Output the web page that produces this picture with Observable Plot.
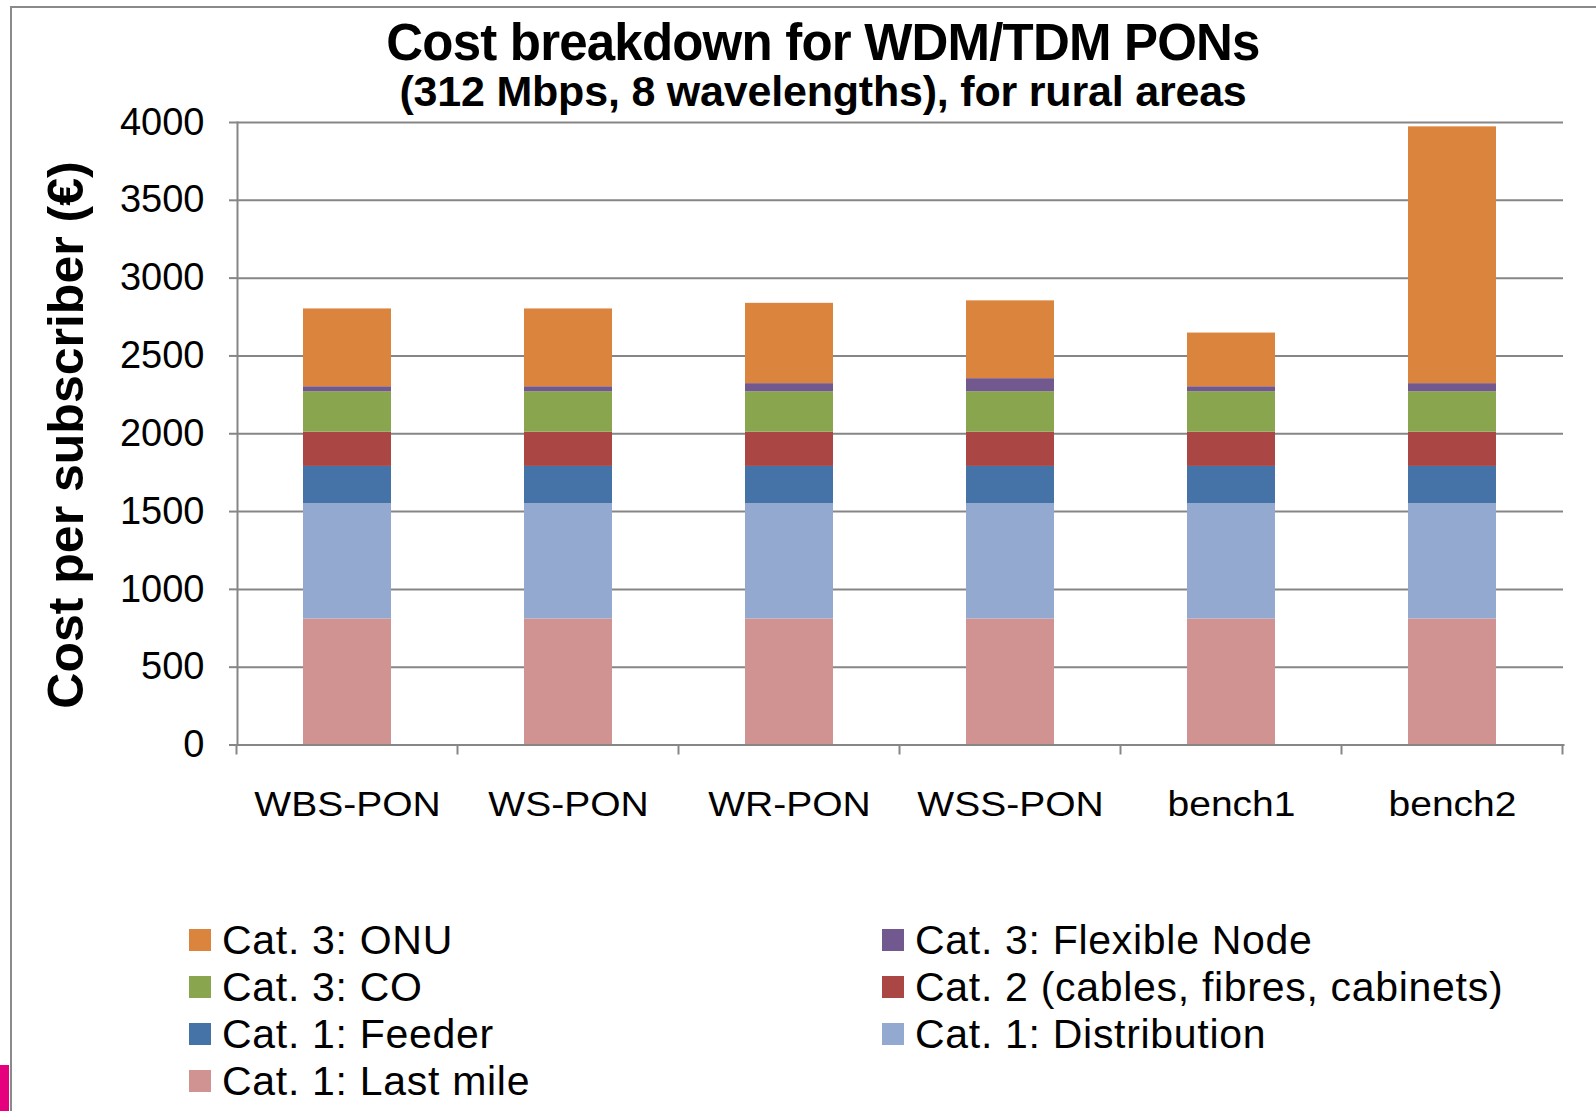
<!DOCTYPE html>
<html>
<head>
<meta charset="utf-8">
<script src="https://cdn.jsdelivr.net/npm/d3@7"></script>
<script src="https://cdn.jsdelivr.net/npm/@observablehq/plot@0.6"></script>
<style>
  html, body { margin: 0; padding: 0; background: #fff; }
  #wrap { position: relative; width: 1596px; height: 1111px; overflow: hidden; font-family: "Liberation Sans", Arial, sans-serif; }
  #chart { position: absolute; left: 0; top: 0; }
  .title { position: absolute; white-space: nowrap; transform: translateX(-50%); font-weight: bold; line-height: 1; color: #000; }
  .ylabel { position: absolute; white-space: nowrap; font-weight: bold; line-height: 1; color: #000; font-size: 50px; transform: translate(-50%, -50%) rotate(-90deg); }
  .border-top { position: absolute; left: 10px; top: 6px; width: 1590px; height: 2px; background: #8a8a8a; }
  .border-left { position: absolute; left: 10px; top: 6px; width: 2px; height: 1110px; background: #8a8a8a; }
  .pink { position: absolute; left: 0; top: 1065px; width: 9px; height: 50px; background: #e5007d; }
  .leg { position: absolute; white-space: nowrap; display: flex; align-items: center; height: 44px; }
  .leg .sw { width: 22px; height: 22px; margin-right: 11px; flex: none; }
  .leg .lb { font-size: 41px; letter-spacing: 0.7px; color: #000; line-height: 1; }
</style>
</head>
<body>
<div id="wrap">
  <div class="border-top"></div>
  <div class="border-left"></div>
  <div class="pink"></div>
  <div id="chart"></div>
</div>
<script>
// ---- data ----
const categories = ["WBS-PON", "WS-PON", "WR-PON", "WSS-PON", "bench1", "bench2"];
// series listed bottom-to-top of each stack
const seriesNames = [
  "Cat. 1: Last mile",
  "Cat. 1: Distribution",
  "Cat. 1: Feeder",
  "Cat. 2 (cables, fibres, cabinets)",
  "Cat. 3: CO",
  "Cat. 3: Flexible Node",
  "Cat. 3: ONU"
];
const seriesColors = ["#d19392", "#93a9cf", "#4572a7", "#aa4643", "#89a54e", "#71588f", "#db843d"];
const lastMile     = [810, 810, 810, 810, 810, 810];
const distribution = [740, 740, 740, 740, 740, 740];
const feeder       = [240, 240, 240, 240, 240, 240];
const cat2         = [220, 220, 220, 220, 220, 220];
const co           = [260, 260, 260, 260, 260, 260];
const flexNode     = [32, 32, 52, 84, 32, 52];
const onu          = [500, 500, 516, 500, 345, 1650];
const yTicks = [0, 500, 1000, 1500, 2000, 2500, 3000, 3500, 4000];
const titleText = "Cost breakdown for WDM/TDM PONs";
const subtitleText = "(312 Mbps, 8 wavelengths), for rural areas";
const yLabel = "Cost per subscriber (€)";

const seriesValues = [lastMile, distribution, feeder, cat2, co, flexNode, onu];
const rows = [];
seriesNames.forEach((s, si) => categories.forEach((c, ci) => rows.push({cat: c, series: s, value: seriesValues[si][ci]})));

const gridColor = "#868686";

// boundary ticks below the category axis (between bands)
function boundaryTicks(index, scales, values, dims) {
  const x = scales.x;
  const bw = x.bandwidth ? x.bandwidth() : 0;
  const centers = categories.map(c => x(c) + bw / 2);
  const step = centers[1] - centers[0];
  const bounds = centers.map(c => c - step / 2).concat([centers[centers.length - 1] + step / 2]);
  const yb = dims.height - dims.marginBottom;
  const g = d3.create("svg:g");
  g.selectAll("line").data(bounds).join("line")
    .attr("x1", d => d).attr("x2", d => d)
    .attr("y1", yb).attr("y2", yb + 10)
    .attr("stroke", gridColor).attr("stroke-width", 2);
  return g.node();
}

const H = 830;
const chart = Plot.plot({
  width: 1596,
  height: H,
  marginLeft: 237,
  marginRight: 33,
  marginTop: 122,
  marginBottom: H - 744.5,
  style: {fontFamily: "'Liberation Sans', Arial, sans-serif", background: "transparent", color: "#000"},
  x: {domain: categories, paddingInner: 0.6, paddingOuter: 0.3, label: null},
  y: {domain: [0, 4000], label: null},
  color: {domain: seriesNames, range: seriesColors},
  marks: [
    Plot.gridY(yTicks, {stroke: gridColor, strokeOpacity: 1, strokeWidth: 2}),
    Plot.barY(rows, {x: "cat", y: "value", fill: "series", order: seriesNames}),
    Plot.axisY(yTicks, {tickSize: 8, tickPadding: 25, fontSize: 38, stroke: gridColor, strokeWidth: 2, fill: "#000", label: null, tickFormat: d => String(d)}),
    Plot.axisX({tickSize: 0, tickPadding: 46, fontSize: 39, fill: "#000", label: null}),
    Plot.frame({anchor: "left", stroke: gridColor, strokeWidth: 2}),
    Plot.frame({anchor: "bottom", stroke: gridColor, strokeWidth: 2}),
    boundaryTicks
  ]
});
document.getElementById("chart").appendChild(chart);

// x tick labels in the reference are slightly wide-set: keep width of 39px text, glyph height of 35px
chart.querySelectorAll('g[aria-label="x-axis tick label"] text').forEach(t => {
  const w = t.getComputedTextLength();
  t.style.fontSize = "35px";
  t.setAttribute("textLength", w);
  t.setAttribute("lengthAdjust", "spacingAndGlyphs");
});

const wrap = document.getElementById("wrap");
function addTitle(text, size, top, spacing) {
  const d = document.createElement("div");
  d.className = "title";
  d.textContent = text;
  d.style.fontSize = size + "px";
  d.style.top = top + "px";
  d.style.left = "823px";
  d.style.letterSpacing = spacing + "px";
  wrap.appendChild(d);
}
addTitle(titleText, 51, 17, -0.8);
addTitle(subtitleText, 43, 70, -0.2);

const yl = document.createElement("div");
yl.className = "ylabel";
yl.textContent = yLabel;
yl.style.left = "66px";
yl.style.top = "435px";
wrap.appendChild(yl);

// legend: reversed series order, 2 columns, row-major
const legendOrder = seriesNames.slice().reverse();
const colX = [189, 882];
legendOrder.forEach((s, i) => {
  const col = i % 2, row = Math.floor(i / 2);
  const d = document.createElement("div");
  d.className = "leg";
  d.style.left = colX[col] + "px";
  d.style.top = (940 + row * 47 - 22) + "px";
  const sw = document.createElement("span");
  sw.className = "sw";
  sw.style.background = seriesColors[seriesNames.indexOf(s)];
  const lb = document.createElement("span");
  lb.className = "lb";
  lb.textContent = s;
  d.appendChild(sw); d.appendChild(lb);
  wrap.appendChild(d);
});
</script>
</body>
</html>
